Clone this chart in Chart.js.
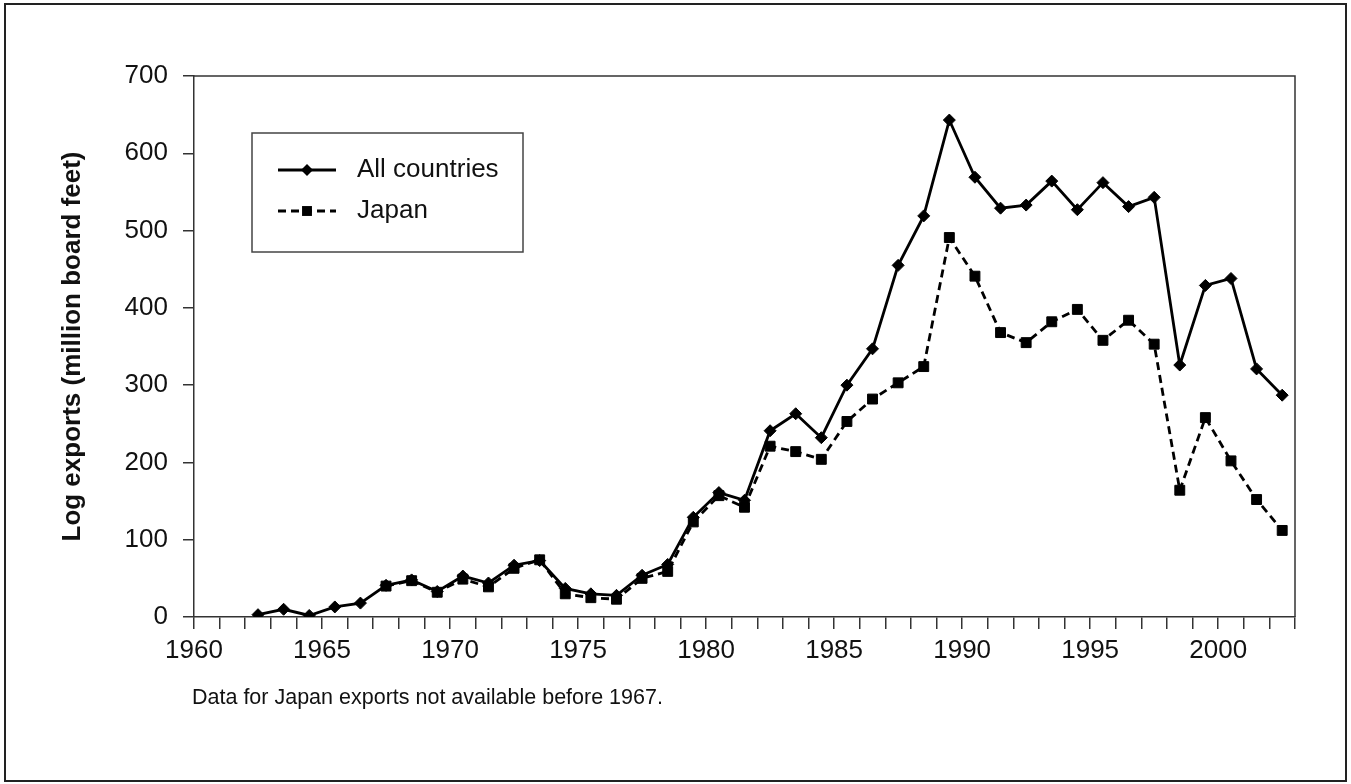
<!DOCTYPE html>
<html>
<head>
<meta charset="utf-8">
<title>Log exports</title>
<script src="https://cdn.jsdelivr.net/npm/chart.js@4.4.0/dist/chart.umd.min.js"></script>
<style>
    html, body { margin: 0; padding: 0; background: #fff; overflow: hidden; }
    #wrap { position: relative; width: 1351px; height: 784px; }
</style>
</head>
<body>
<div id="wrap"><canvas id="exportChart"></canvas></div>
<script>
// years 1962-2002, values in million board feet
const years = [1962, 1963, 1964, 1965, 1966, 1967, 1968, 1969, 1970, 1971,
    1972, 1973, 1974, 1975, 1976, 1977, 1978, 1979, 1980, 1981,
    1982, 1983, 1984, 1985, 1986, 1987, 1988, 1989, 1990, 1991,
    1992, 1993, 1994, 1995, 1996, 1997, 1998, 1999, 2000, 2001, 2002];

const allCountries = [3, 10, 2, 13, 18, 41, 48, 33, 53, 44,
    67, 73, 37, 30, 28, 54, 68, 129, 161, 151,
    241, 263, 232, 300, 347, 455, 519, 643, 569, 529,
    533, 564, 527, 562, 531, 543, 326, 429, 438, 321, 287];

// no Japan data before 1967
const japan = [null, null, null, null, null, 40, 47, 32, 49, 39,
    63, 74, 30, 25, 23, 50, 59, 123, 157, 142,
    221, 214, 204, 253, 282, 303, 324, 491, 441, 368,
    355, 382, 398, 358, 384, 353, 164, 258, 202, 152, 112];

const yTicks = [0, 100, 200, 300, 400, 500, 600, 700];
const xLabelYears = [1960, 1965, 1970, 1975, 1980, 1985, 1990, 1995, 2000];

const seriesNames = ['All countries', 'Japan'];
const noteText = 'Data for Japan exports not available before 1967.';
const yTitle = 'Log exports (million board feet)';

document.addEventListener('DOMContentLoaded', function () {
    const ctx = document.getElementById('exportChart').getContext('2d');
    const fontFamily = 'Arial, "Liberation Sans", Helvetica, sans-serif';
    const axisColor = '#333';

    // points sit in the middle of each year
    function toPoints(values) {
        return years.map((y, i) => ({ x: y + 0.5, y: values[i] }));
    }

    function drawMarker(c, style, x, y, r) {
        c.beginPath();
        if (style === 'rectRot') {
            c.moveTo(x, y - r);
            c.lineTo(x + r, y);
            c.lineTo(x, y + r);
            c.lineTo(x - r, y);
            c.closePath();
        } else {
            const s = Math.SQRT1_2 * r;
            c.rect(x - s, y - s, 2 * s, 2 * s);
        }
        c.fill();
    }

    const framePlugin = {
        id: 'frame',
        afterDraw(chart) {
            const c = chart.ctx;
            const area = chart.chartArea;
            c.save();

            // outer border
            c.strokeStyle = '#222';
            c.lineWidth = 2;
            c.strokeRect(5, 4, chart.width - 10, chart.height - 7);

            // top and right edge of the plot box
            c.strokeStyle = axisColor;
            c.lineWidth = 1.5;
            c.beginPath();
            c.moveTo(area.left, area.top);
            c.lineTo(area.right, area.top);
            c.lineTo(area.right, area.bottom);
            c.stroke();

            // legend box
            const lx = area.left + 58, ly = area.top + 57;
            c.strokeStyle = '#444';
            c.lineWidth = 1.5;
            c.strokeRect(lx, ly, 271, 119);

            chart.data.datasets.forEach((ds, i) => {
                const yy = ly + 37 + i * 41;
                c.strokeStyle = '#000';
                c.fillStyle = '#000';
                c.lineWidth = ds.borderWidth;
                c.setLineDash(ds.borderDash || []);
                c.beginPath();
                c.moveTo(lx + 26, yy);
                c.lineTo(lx + 84, yy);
                c.stroke();
                c.setLineDash([]);
                drawMarker(c, ds.pointStyle, lx + 55, yy, ds.pointRadius);

                c.fillStyle = '#111';
                c.font = '26px ' + fontFamily;
                c.textBaseline = 'middle';
                c.textAlign = 'left';
                c.fillText(ds.label, lx + 105, yy);
            });

            // footnote
            c.fillStyle = '#111';
            c.font = '21.5px ' + fontFamily;
            c.textBaseline = 'middle';
            c.fillText(noteText, area.left - 2, 698);
            c.restore();
        }
    };

    const data = {
        datasets: [{
            label: seriesNames[0],
            data: toPoints(allCountries),
            borderColor: '#000',
            backgroundColor: '#000',
            borderWidth: 2.8,
            pointStyle: 'rectRot',
            pointRadius: 6,
            pointBorderWidth: 1
        }, {
            label: seriesNames[1],
            data: toPoints(japan),
            borderColor: '#000',
            backgroundColor: '#000',
            borderWidth: 2.8,
            borderDash: [8, 5],
            pointStyle: 'rect',
            pointRadius: 7,
            pointBorderWidth: 1,
            spanGaps: false
        }]
    };

    const config = {
        type: 'line',
        data: data,
        options: {
            responsive: true,
            maintainAspectRatio: false,
            animation: false,
            layout: { padding: { top: 76, right: 56, left: 0, bottom: 0 } },
            plugins: {
                legend: { display: false },
                tooltip: { enabled: false }
            },
            scales: {
                x: {
                    type: 'linear',
                    min: 1960,
                    max: 2003,
                    afterFit: scale => { scale.height = 167; },
                    border: { color: axisColor, width: 1.5 },
                    grid: { drawOnChartArea: false, tickLength: 12, color: axisColor, lineWidth: 1.5 },
                    ticks: {
                        stepSize: 1,
                        autoSkip: false,
                        maxRotation: 0,
                        padding: 6,
                        color: '#111',
                        font: { family: fontFamily, size: 26 },
                        callback: v => xLabelYears.includes(v) ? String(v) : ''
                    }
                },
                y: {
                    min: yTicks[0],
                    max: yTicks[yTicks.length - 1],
                    afterFit: scale => { scale.width = 194; },
                    afterBuildTicks: scale => { scale.ticks = yTicks.map(v => ({ value: v })); },
                    border: { color: axisColor, width: 1.5 },
                    grid: { drawOnChartArea: false, tickLength: 11, color: axisColor, lineWidth: 1.5 },
                    ticks: {
                        padding: 15,
                        color: '#111',
                        font: { family: fontFamily, size: 26 }
                    },
                    title: {
                        display: true,
                        text: yTitle,
                        color: '#111',
                        padding: { top: 57, bottom: 0 },
                        font: { family: fontFamily, size: 26, weight: 'bold' }
                    }
                }
            }
        },
        plugins: [framePlugin]
    };

    new Chart(ctx, config);
});
</script>
</body>
</html>
